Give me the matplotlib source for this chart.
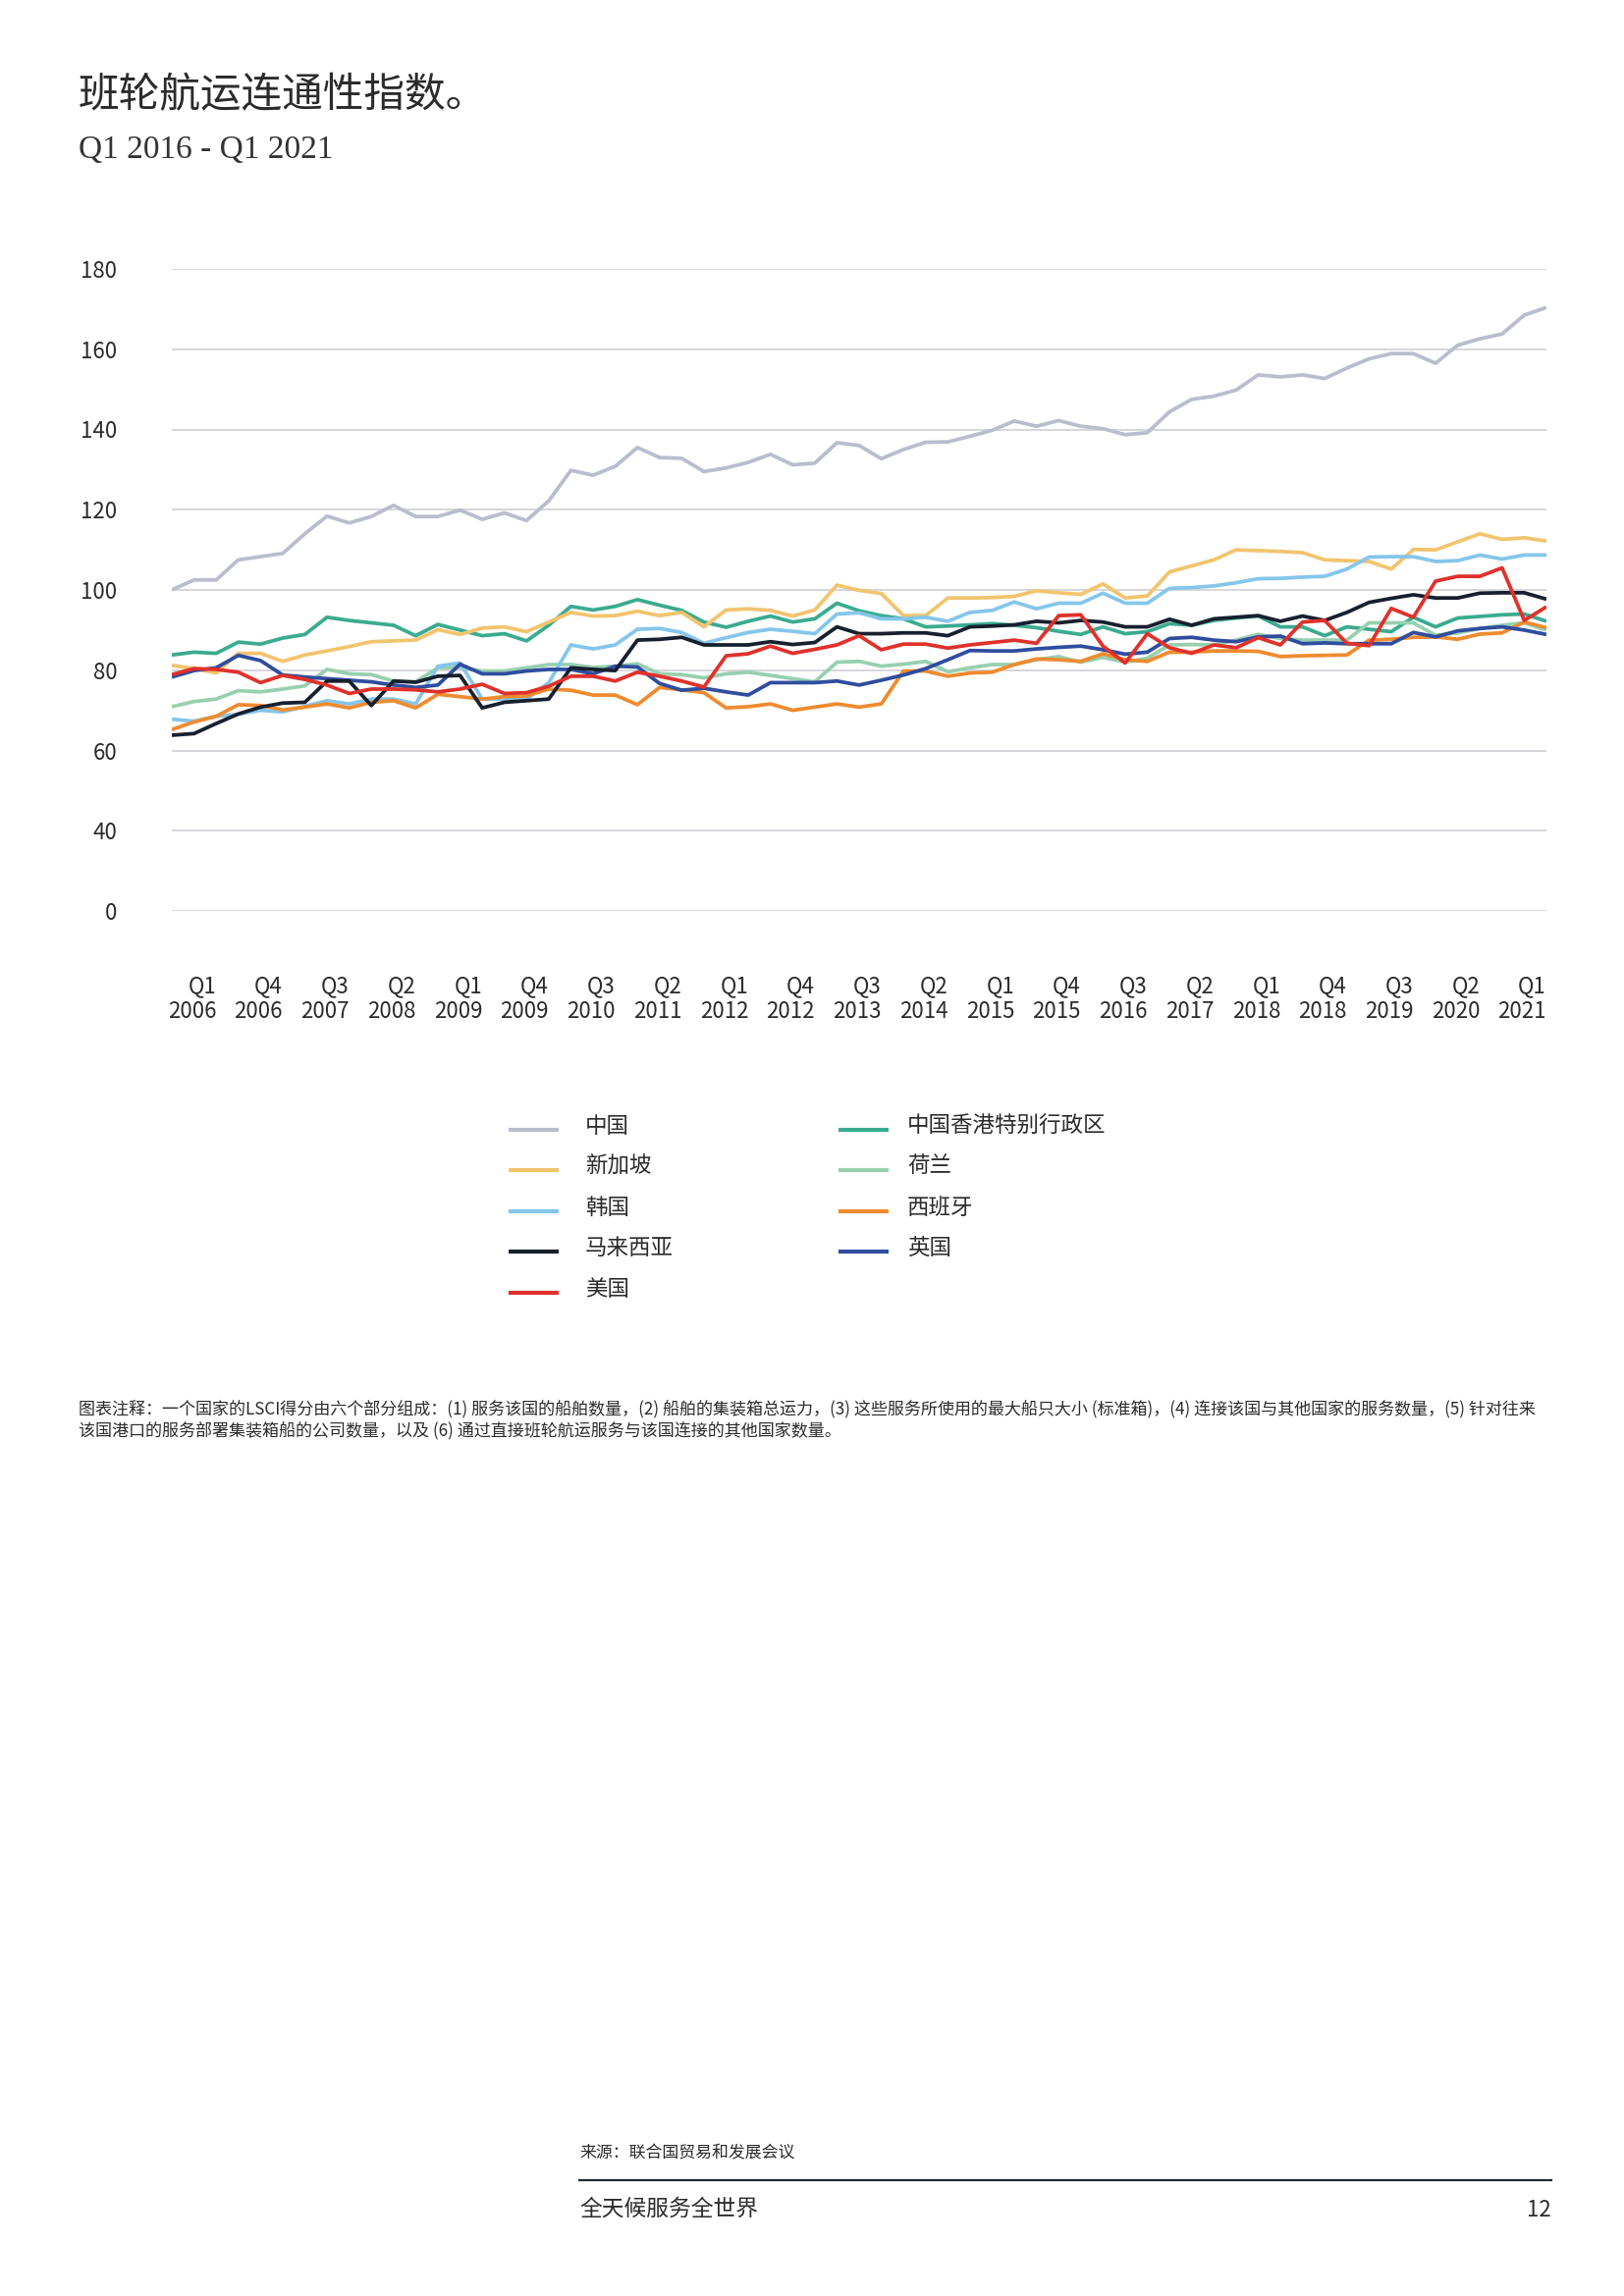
import numpy as np
import matplotlib
matplotlib.use('Agg')
import matplotlib.pyplot as plt
from matplotlib.lines import Line2D

plt.rcParams['font.family'] = ['Noto Sans CJK SC', 'DejaVu Sans']

W, H = 1654, 2339

# quarterly values, Q3 2005 .. Q1 2021
china = [100, 102.5, 102.5, 107.5, 108.3, 109.1, 114, 118.4, 116.7, 118.3, 121.1, 118.3, 118.3, 119.9, 117.6, 119.2,
         117.3, 122.2, 129.8, 128.6, 130.8, 135.5, 133, 132.8, 129.5, 130.4, 131.8, 133.8, 131.2, 131.6, 136.7, 136,
         132.7, 135, 136.8, 136.9, 138.3, 139.8, 142.1, 140.8, 142.2, 140.8, 140.2, 138.7, 139.2, 144.4, 147.5,
         148.3, 149.8, 153.6, 153.1, 153.6, 152.7, 155.3, 157.6, 158.9, 158.9, 156.5, 161, 162.6, 163.8, 168.5, 170.4]
hongkong = [83.8, 84.5, 84.2, 87, 86.5, 88, 88.9, 93.2, 92.4, 91.8, 91.2, 88.6, 91.4, 90, 88.6, 89.1,
            87.3, 91.2, 95.9, 95, 95.9, 97.6, 96.2, 94.9, 92, 90.7, 92.2, 93.5, 92, 92.8, 96.7, 94.8,
            93.6, 92.8, 90.8, 91, 91.3, 91.6, 91.2, 90.6, 89.7, 88.9, 90.8, 89.1, 89.6, 91.6, 91.2,
            92.4, 93, 93.5, 90.8, 90.8, 88.6, 90.8, 90.2, 89.6, 93.2, 90.8, 93, 93.4, 93.8, 94, 92.2]
singapore = [81.2, 80.4, 79.3, 84.2, 84.2, 82.2, 83.8, 84.8, 85.9, 87.1, 87.3, 87.5, 90.1, 88.9, 90.5, 90.8,
             89.6, 92, 94.4, 93.5, 93.6, 94.7, 93.6, 94.4, 90.8, 95, 95.3, 94.9, 93.5, 95, 101.2, 99.9,
             99.1, 93.6, 93.6, 98, 98, 98.1, 98.4, 99.8, 99.3, 98.9, 101.5, 98, 98.5, 104.5, 106,
             107.5, 110, 109.8, 109.6, 109.3, 107.5, 107.3, 107.1, 105.2, 110.1, 110, 112, 114, 112.6, 113, 112.2]
netherlands = [70.9, 72.2, 72.8, 74.9, 74.6, 75.3, 76.1, 80.2, 79.1, 78.9, 77.3, 77.1, 80.6, 80.7, 79.8, 79.8,
               80.6, 81.4, 81.4, 80.7, 81, 81.6, 79.1, 78.9, 78.1, 79.1, 79.5, 78.7, 77.9, 77.1, 82, 82.2,
               81, 81.5, 82.2, 79.6, 80.6, 81.4, 81.4, 82.6, 83.4, 82, 83.2, 82, 83, 86.3, 86.4,
               86.3, 87.5, 88.9, 87.9, 87.5, 87.5, 87.5, 91.8, 91.8, 91.8, 88.7, 89.3, 90.4, 91.2, 91.8, 90]
korea = [67.8, 67.3, 68.5, 69, 70, 69.6, 71, 72.4, 71.6, 72.8, 72.8, 71.6, 81, 81.8, 72.8, 72.8,
         72.8, 76.9, 86.3, 85.3, 86.3, 90.2, 90.4, 89.4, 86.7, 88.1, 89.4, 90.2, 89.7, 89.1, 94, 94.3,
         92.8, 92.8, 93.2, 92.2, 94.4, 94.9, 97, 95.3, 96.7, 96.7, 99.2, 96.7, 96.7, 100.4, 100.6,
         101, 101.8, 102.8, 102.9, 103.2, 103.4, 105.2, 108.2, 108.3, 108.3, 107.1, 107.3, 108.7, 107.7, 108.7, 108.7]
spain = [65.2, 67.1, 68.5, 71.4, 71.2, 70.1, 70.8, 71.6, 70.6, 72, 72.4, 70.6, 74, 73.4, 72.8, 73.4,
         73.6, 75.3, 75, 73.8, 73.8, 71.4, 75.7, 75.1, 74.4, 70.6, 70.9, 71.6, 70, 70.8, 71.6, 70.8,
         71.6, 79.8, 79.8, 78.5, 79.3, 79.5, 81.4, 82.8, 82.6, 82.2, 84.1, 82.6, 82.2, 84.5, 84.5,
         84.8, 84.8, 84.7, 83.4, 83.6, 83.7, 83.8, 87.5, 87.7, 88.2, 88.3, 87.7, 89, 89.3, 92, 90.6]
malaysia = [63.8, 64.2, 66.7, 69.1, 70.8, 71.8, 72, 77.3, 77.3, 71.2, 77.3, 77, 78.5, 78.7, 70.6, 72,
            72.4, 72.8, 80.6, 80.2, 79.9, 87.5, 87.7, 88.2, 86.3, 86.3, 86.3, 87.1, 86.4, 86.9, 90.8, 89.1,
            89.1, 89.3, 89.3, 88.6, 90.8, 91, 91.3, 92.2, 91.8, 92.4, 92, 90.8, 90.8, 92.7, 91.2,
            92.8, 93.2, 93.6, 92.2, 93.5, 92.4, 94.4, 96.9, 97.9, 98.8, 98, 98, 99.2, 99.3, 99.3, 97.7]
uk = [78.3, 79.9, 80.6, 83.7, 82.4, 78.8, 78.3, 77.9, 77.5, 77.1, 76.3, 75.7, 76.3, 81.5, 79.1, 79.1,
      79.8, 80.2, 80.2, 79.1, 81, 80.8, 76.7, 75, 75.5, 74.6, 73.8, 76.9, 76.9, 76.9, 77.3, 76.3,
      77.5, 78.8, 80.4, 82.6, 84.9, 84.8, 84.8, 85.3, 85.7, 86, 85.1, 84, 84.5, 87.9, 88.2,
      87.5, 87.1, 88.3, 88.5, 86.6, 86.8, 86.6, 86.6, 86.6, 89.4, 88.3, 89.8, 90.4, 90.8, 90, 88.9]
usa = [78.9, 80.4, 80.2, 79.5, 76.9, 78.7, 77.7, 76.3, 74.2, 75.3, 75.3, 75.1, 74.6, 75.3, 76.5, 74.2,
       74.4, 76, 78.5, 78.5, 77.3, 79.5, 78.5, 77.3, 75.8, 83.6, 84.1, 86, 84.2, 85.2, 86.3, 88.6,
       85.1, 86.5, 86.5, 85.5, 86.3, 86.9, 87.5, 86.7, 93.6, 93.8, 86, 81.8, 89.1, 85.6, 84.2,
       86.3, 85.6, 88.1, 86.3, 92, 92.4, 86.7, 86.1, 95.4, 93.2, 102.2, 103.4, 103.4, 105.5, 92.4, 95.8]

names = ['中国', '新加坡', '韩国', '马来西亚', '美国', '中国香港特别行政区', '荷兰', '西班牙', '英国']
colors = ['#b9bdcc', '#f2c46e', '#85c6ea', '#17202e', '#e0312b', '#3aab8f', '#97d0b0', '#ef8b2f', '#2f4d9f']
values = [china, singapore, korea, malaysia, usa, hongkong, netherlands, spain, uk]
draw_order = [0, 5, 1, 6, 2, 7, 8, 3, 4]

x_ticks = [2, 5, 8, 11, 14, 17, 20, 23, 26, 29, 32, 35, 38, 41, 44, 47, 50, 53, 56, 59, 62]
x_labels = ['Q1\n2006', 'Q4\n2006', 'Q3\n2007', 'Q2\n2008', 'Q1\n2009', 'Q4\n2009', 'Q3\n2010',
            'Q2\n2011', 'Q1\n2012', 'Q4\n2012', 'Q3\n2013', 'Q2\n2014', 'Q1\n2015', 'Q4\n2015',
            'Q3\n2016', 'Q2\n2017', 'Q1\n2018', 'Q4\n2018', 'Q3\n2019', 'Q2\n2020', 'Q1\n2021']
y_ticks = [20, 40, 60, 80, 100, 120, 140, 160, 180]
y_labels = ['0', '40', '60', '80', '100', '120', '140', '160', '180']

txt = '#2b2b2b'

fig = plt.figure(figsize=(W / 200, H / 200), dpi=200)
ax = fig.add_axes([175 / W, 1 - 928 / H, 1400 / W, (928 - 274) / H])

x = np.arange(len(china))
for i in draw_order:
    ax.plot(x, values[i], color=colors[i], lw=1.35, solid_capstyle='butt')

ax.set_xlim(0, len(china) - 1)
ax.set_ylim(20, 180)
ax.set_yticks(y_ticks)
ax.set_yticklabels(y_labels)
ax.set_xticks(x_ticks)
ax.set_xticklabels(x_labels, ha='right', multialignment='right', linespacing=1.15)
ax.tick_params(axis='both', length=0, labelsize=8, labelcolor=txt)
ax.tick_params(axis='y', pad=20)
ax.tick_params(axis='x', pad=23.5)
for s in ax.spines.values():
    s.set_visible(False)
ax.grid(axis='y', color='#cfd0d5', lw=0.6)
ax.set_axisbelow(True)


def fx(px):
    return px / W


def fy(py):
    return 1 - py / H


# title
fig.text(fx(80), fy(98), '班轮航运连通性指数。', fontsize=15, color=txt, va='center', ha='left')
fig.text(fx(80), fy(153), 'Q1 2016 - Q1 2021', fontsize=12, color='#333333', va='center', ha='left',
         family=['Liberation Serif', 'DejaVu Serif'])

# legend, two columns
cols = [(518, 596), (854, 924)]
rows = [1147, 1188, 1230, 1271, 1313]
for k in range(len(names)):
    c = 0 if k < 5 else 1
    r = k if k < 5 else k - 5
    lx, tx = cols[c]
    ly = rows[r]
    fig.add_artist(Line2D([fx(lx), fx(lx + 51)], [fy(ly + 4), fy(ly + 4)], color=colors[k], lw=1.5,
                          solid_capstyle='butt'))
    fig.text(fx(tx), fy(ly), names[k], fontsize=8.1, color=txt, va='center', ha='left')

# note
note1 = ('图表注释：一个国家的LSCI得分由六个部分组成：(1) 服务该国的船舶数量，(2) 船舶的集装箱总运力，'
         '(3) 这些服务所使用的最大船只大小 (标准箱)，(4) 连接该国与其他国家的服务数量，(5) 针对往来')
note2 = '该国港口的服务部署集装箱船的公司数量，以及 (6) 通过直接班轮航运服务与该国连接的其他国家数量。'
fig.text(fx(80), fy(1435), note1, fontsize=6.15, color=txt, va='center', ha='left')
fig.text(fx(80), fy(1457), note2, fontsize=6.15, color=txt, va='center', ha='left')

# footer
fig.text(fx(590), fy(2193), '来源：联合国贸易和发展会议', fontsize=6.1, color=txt, va='center', ha='left')
fig.add_artist(Line2D([fx(590), fx(1580)], [fy(2221), fy(2221)], color='#222a33', lw=0.8))
fig.text(fx(590), fy(2250), '全天候服务全世界', fontsize=8.2, color=txt, va='center', ha='left')
fig.text(fx(1580), fy(2252), '12', fontsize=8, color=txt, va='center', ha='right')

fig.savefig('out.png', dpi=200, facecolor='white')
